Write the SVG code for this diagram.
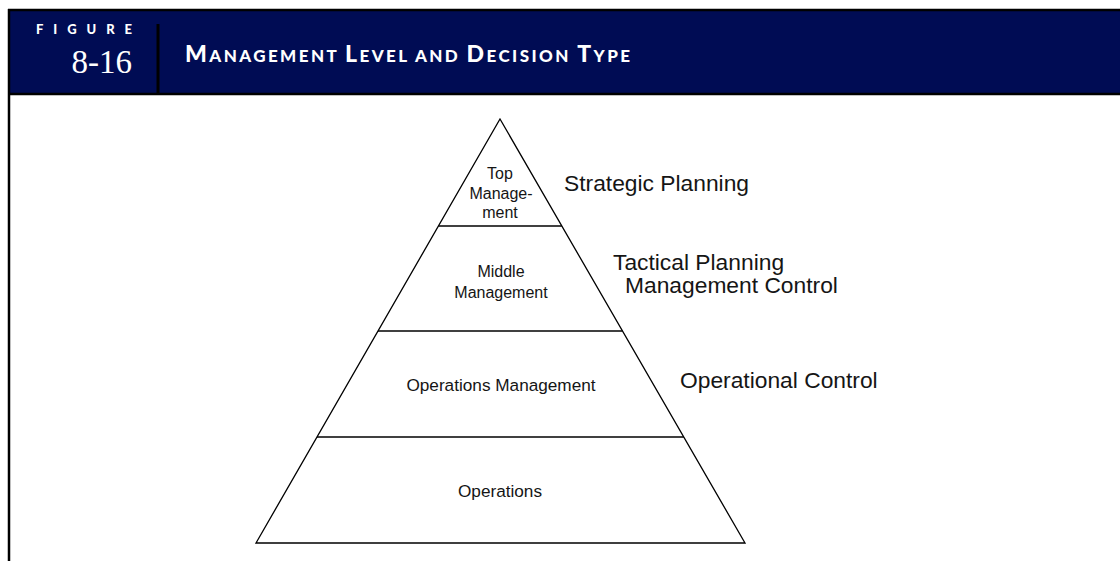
<svg xmlns="http://www.w3.org/2000/svg" width="1120" height="561" viewBox="0 0 1120 561">
<style>
.hdr{fill:#000c54}
.rule{stroke:#000;fill:none}
.pyr{stroke:#000;stroke-width:1.3;fill:#fff}
.div{stroke:#000;stroke-width:1.3}
.inner{font-family:"Liberation Sans",Arial,sans-serif;fill:#151515;text-anchor:middle}
.side{font-family:"Liberation Sans",Arial,sans-serif;fill:#151515;font-size:22.8px}
.title{font-family:Lato,"Open Sans",sans-serif;font-weight:900;fill:#fff}
</style>
<rect width="1120" height="561" fill="#fff"/>
<g id="header">
<rect class="hdr" x="9" y="10" width="1111" height="84"/>
<line class="rule" x1="8" y1="10" x2="1120" y2="10" stroke-width="2.5"/>
<line class="rule" x1="8" y1="94" x2="1120" y2="94" stroke-width="2.5"/>
<line class="rule" x1="9" y1="9" x2="9" y2="561" stroke-width="2.5"/>
<line class="rule" x1="158" y1="24" x2="158" y2="94" stroke-width="3"/>
<text class="title" x="36" y="34" font-size="13" textLength="96" lengthAdjust="spacing">FIGURE</text>
<text x="132" y="73" font-family="Liberation Serif,'Times New Roman',serif" font-size="33" fill="#fff" text-anchor="end">8-16</text>
<text class="title" x="185" y="62" textLength="445" lengthAdjust="spacing"><tspan font-size="23">M</tspan><tspan font-size="17">ANAGEMENT </tspan><tspan font-size="23">L</tspan><tspan font-size="17">EVEL AND </tspan><tspan font-size="23">D</tspan><tspan font-size="17">ECISION </tspan><tspan font-size="23">T</tspan><tspan font-size="17">YPE</tspan></text>
</g>
<g id="pyramid">
<polygon class="pyr" points="500,119 745,543 256,543"/>
</g>
<g id="connectors">
<line class="div" x1="438.4" y1="226" x2="561.8" y2="226"/>
<line class="div" x1="378" y1="331" x2="622.4" y2="331"/>
<line class="div" x1="317" y1="437" x2="683.8" y2="437"/>
</g>
<g id="top-management">
<text class="inner" font-size="16" x="500" y="179">Top</text>
<text class="inner" font-size="16" x="501" y="198.5">Manage-</text>
<text class="inner" font-size="16" x="500" y="218">ment</text>
</g>
<g id="middle-management">
<text class="inner" font-size="16" x="501" y="276.5">Middle</text>
<text class="inner" font-size="16" x="501" y="297.5">Management</text>
</g>
<g id="operations-management">
<text class="inner" font-size="17.2" x="501" y="390.5">Operations Management</text>
</g>
<g id="operations">
<text class="inner" font-size="17.2" x="500" y="497">Operations</text>
</g>
<g id="strategic-planning">
<text class="side" x="564" y="190.5">Strategic Planning</text>
</g>
<g id="tactical-planning">
<text class="side" x="613" y="270">Tactical Planning</text>
<text class="side" x="625" y="293.3">Management Control</text>
</g>
<g id="operational-control">
<text class="side" x="680" y="388.3">Operational Control</text>
</g>
</svg>
